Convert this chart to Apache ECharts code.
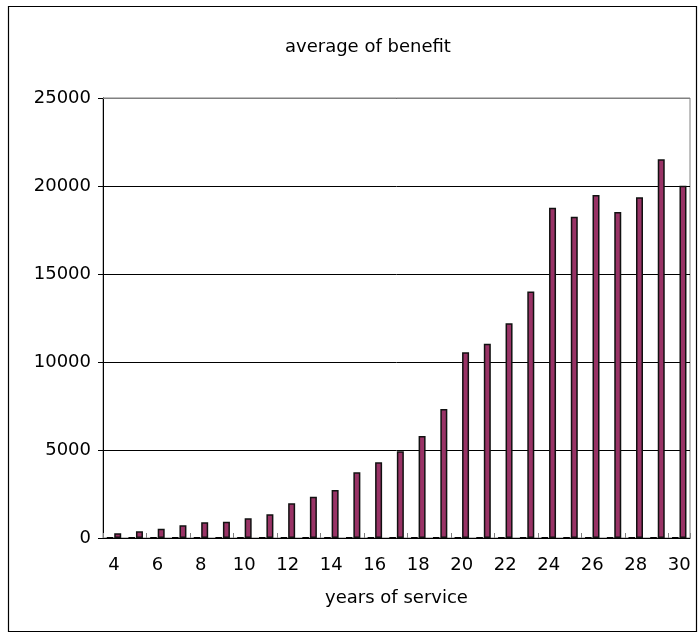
<!DOCTYPE html>
<html>
<head>
<meta charset="utf-8">
<script src="https://cdn.jsdelivr.net/npm/echarts@6/dist/echarts.min.js"></script>
<style>
  html, body { margin: 0; padding: 0; background: #fff; }
  #chart { width: 700px; height: 635px; }
</style>
</head>
<body>
<div id="chart"></div>
<script>
// Years of service on the category axis
const years = ['4','5','6','7','8','9','10','11','12','13','14','15','16','17','18',
               '19','20','21','22','23','24','25','26','27','28','29','30'];

// Average benefit per year of service
const benefit = [270, 380, 530, 720, 890, 930, 1120, 1350, 1970, 2350, 2730, 3730, 4300,
                 4930, 5800, 7330, 10550, 11040, 12200, 14000, 18770, 18250, 19490, 18520,
                 19360, 21520, 20020];

// Companion series that stays close to zero
const companion = [40, 40, 40, 40, 40, 40, 40, 40, 40, 40, 40, 40, 40, 40, 40,
                   40, 40, 40, 40, 40, 40, 40, 40, 40, 40, 40, 40];

// Value axis ticks
const yTicks = { min: 0, max: 25000, interval: 5000 };

const FONT = 'DejaVu Sans';
const chart = echarts.init(document.getElementById('chart'), null, { renderer: 'canvas' });

chart.setOption({
  animation: false,
  backgroundColor: '#ffffff',
  title: {
    text: 'average of benefit',
    left: 280,
    top: 33,
    textStyle: { fontFamily: FONT, fontSize: 18, fontWeight: 'normal', color: '#000' }
  },
  grid: {
    left: 103, right: 10, top: 98, bottom: 97,
    show: true, borderColor: '#808080', borderWidth: 1
  },
  xAxis: {
    type: 'category',
    data: years,
    boundaryGap: true,
    name: 'years of service',
    nameLocation: 'middle',
    nameGap: 51,
    nameTextStyle: { fontFamily: FONT, fontSize: 18, color: '#000' },
    axisLine: { show: true, lineStyle: { color: '#000', width: 1 } },
    axisTick: { show: true, inside: true, length: 5, interval: 1, lineStyle: { color: '#808080' } },
    axisLabel: { interval: 1, margin: 18, fontFamily: FONT, fontSize: 18, color: '#000' },
    splitLine: { show: false }
  },
  yAxis: {
    type: 'value',
    min: yTicks.min, max: yTicks.max, interval: yTicks.interval,
    axisLine: { show: true, lineStyle: { color: '#000', width: 1 } },
    axisTick: { show: true, length: 5, lineStyle: { color: '#000' } },
    axisLabel: { margin: 12, fontFamily: FONT, fontSize: 18, color: '#000',
                 formatter: (v) => String(v) },
    splitLine: { show: true, lineStyle: { color: '#000', width: 1 } }
  },
  series: [
    {
      name: 'count',
      type: 'bar',
      data: companion,
      barWidth: 7,
      barGap: '10%',
      itemStyle: { color: '#333', borderColor: '#000', borderWidth: 1 }
    },
    {
      name: 'average of benefit',
      type: 'bar',
      data: benefit,
      barWidth: 7,
      barGap: '10%',
      itemStyle: { color: '#993366', borderColor: '#111', borderWidth: 1.5 }
    }
  ]
});

// Outer chart frame and the grey top edge of the plot area
const topLeft = chart.convertToPixel({ gridIndex: 0 }, [0, yTicks.max]);
const gridRect = chart.getModel().getComponent('grid').coordinateSystem.getRect();
chart.setOption({
  graphic: [
    {
      type: 'rect',
      shape: { x: 8.5, y: 6.5, width: 688, height: 625 },
      style: { fill: 'none', stroke: '#000', lineWidth: 1.2 },
      silent: true
    },
    {
      type: 'line',
      z: 100,
      shape: { x1: gridRect.x, y1: Math.round(topLeft[1]) + 0.5,
               x2: gridRect.x + gridRect.width, y2: Math.round(topLeft[1]) + 0.5 },
      style: { stroke: '#808080', lineWidth: 1 },
      silent: true
    }
  ]
});
</script>
</body>
</html>
